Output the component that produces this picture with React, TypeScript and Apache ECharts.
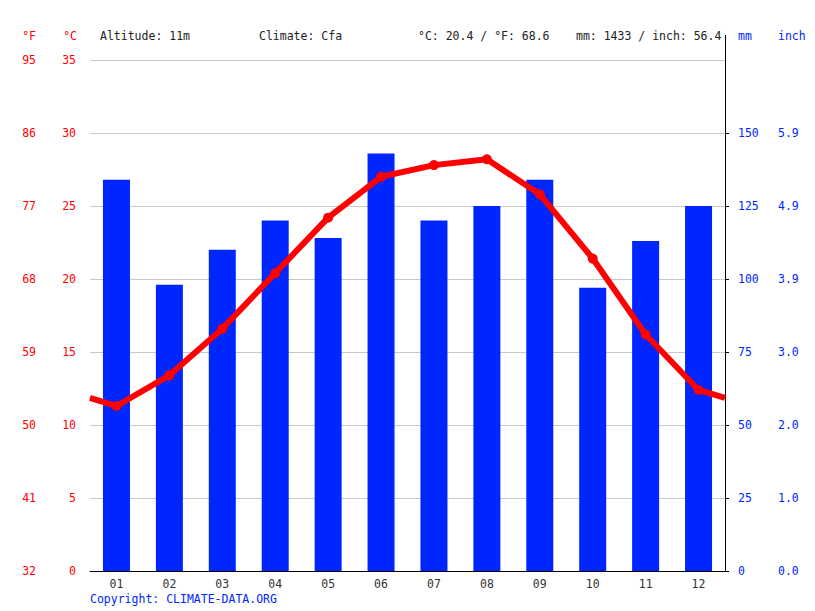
import { useEffect, useRef } from 'react'
import * as echarts from 'echarts'

const months = ['01', '02', '03', '04', '05', '06', '07', '08', '09', '10', '11', '12']
const precipitationMm = [134, 98, 110, 120, 114, 143, 120, 125, 134, 97, 113, 125]
const temperatureC = [11.3, 13.4, 16.6, 20.4, 24.2, 27.0, 27.8, 28.2, 25.8, 21.4, 16.2, 12.4]
const fahrenheitTicks = ['32', '41', '50', '59', '68', '77', '86', '95']
const mmTicks = [0, 25, 50, 75, 100, 125, 150]
const inchTicks = ['0.0', '1.0', '2.0', '3.0', '3.9', '4.9', '5.9']

const FONT = '"DejaVu Sans Mono", monospace'
const RED = '#ff0000'
const BLUE = '#0026ff'

export default function App() {
  const chartRef = useRef<HTMLDivElement>(null)

  useEffect(() => {
    document.body.style.margin = '0'
    if (!chartRef.current) return
    const chart = echarts.init(chartRef.current, null, { renderer: 'svg' })

    // the curve wraps round from December to January at both edges
    const edge = (temperatureC[0] + temperatureC[11]) / 2
    const lineData = [
      { value: [0, edge], symbol: 'none' },
      ...temperatureC.map((t, i) => ({ value: [i + 0.5, t] })),
      { value: [12, edge], symbol: 'none' }
    ]

    const headerText = (text: string, x: number, fill: string, align = 'left') => ({
      type: 'text',
      x,
      y: 36,
      style: { text, fill, font: `11.5px ${FONT}`, align, verticalAlign: 'middle' }
    })

    const option: any = {
      animation: false,
      grid: { left: 90, right: 90, top: 60, bottom: 40, outerBoundsMode: 'none' },
      xAxis: [
        {
          type: 'category',
          data: months,
          axisLine: { lineStyle: { color: '#000', width: 1 } },
          axisTick: { length: 5, lineStyle: { color: '#000' } },
          axisLabel: { color: '#333', fontFamily: FONT, fontSize: 11.5, margin: 7 }
        },
        { type: 'value', min: 0, max: 12, show: false }
      ],
      yAxis: [
        {
          type: 'value',
          position: 'left',
          min: 0,
          max: 35,
          interval: 5,
          axisLine: { show: false },
          axisTick: { show: false },
          axisLabel: { color: RED, fontFamily: FONT, fontSize: 11.5, margin: 14 },
          splitLine: { lineStyle: { color: '#c8c8c8', width: 1 } }
        },
        {
          type: 'value',
          position: 'left',
          offset: 40,
          min: 0,
          max: 35,
          interval: 5,
          axisLine: { show: false },
          axisTick: { show: false },
          splitLine: { show: false },
          axisLabel: {
            color: RED,
            fontFamily: FONT,
            fontSize: 11.5,
            margin: 14,
            formatter: (v: number) => fahrenheitTicks[Math.round(v / 5)]
          }
        },
        {
          type: 'value',
          position: 'right',
          min: 0,
          max: 175,
          interval: 25,
          axisLine: { show: true, lineStyle: { color: '#000', width: 1 } },
          axisTick: { show: true, length: 4, customValues: mmTicks, lineStyle: { color: '#000' } },
          splitLine: { show: false },
          axisLabel: { color: BLUE, fontFamily: FONT, fontSize: 11.5, margin: 13, customValues: mmTicks }
        },
        {
          type: 'value',
          position: 'right',
          offset: 40,
          min: 0,
          max: 175,
          interval: 25,
          axisLine: { show: false },
          axisTick: { show: false },
          splitLine: { show: false },
          axisLabel: {
            color: BLUE,
            fontFamily: FONT,
            fontSize: 11.5,
            margin: 13,
            customValues: mmTicks,
            formatter: (v: number) => inchTicks[Math.round(v / 25)]
          }
        }
      ],
      graphic: [
        headerText('°F', 36, RED, 'right'),
        headerText('°C', 77, RED, 'right'),
        headerText('Altitude: 11m', 100, '#222'),
        headerText('Climate: Cfa', 259, '#222'),
        headerText('°C: 20.4 / °F: 68.6', 418, '#222'),
        headerText('mm: 1433 / inch: 56.4', 576, '#222'),
        headerText('mm', 738, BLUE),
        headerText('inch', 778, BLUE),
        {
          type: 'line',
          shape: { x1: 725.5, y1: 35, x2: 725.5, y2: 60 },
          style: { stroke: '#000', lineWidth: 1 }
        },
        {
          type: 'text',
          x: 90,
          y: 599,
          style: {
            text: 'Copyright: CLIMATE-DATA.ORG',
            fill: BLUE,
            font: `11.5px ${FONT}`,
            verticalAlign: 'middle'
          }
        }
      ],
      series: [
        {
          name: 'mm',
          type: 'bar',
          xAxisIndex: 0,
          yAxisIndex: 2,
          barWidth: 27,
          data: precipitationMm,
          itemStyle: { color: BLUE }
        },
        {
          name: '°C',
          type: 'line',
          xAxisIndex: 1,
          yAxisIndex: 0,
          data: lineData,
          symbol: 'circle',
          symbolSize: 10,
          showAllSymbol: true,
          lineStyle: { color: RED, width: 6 },
          itemStyle: { color: RED }
        }
      ]
    }

    chart.setOption(option)

    return () => {
      chart.dispose()
    }
  }, [])

  return <div ref={chartRef} style={{ width: 815, height: 611 }} />
}
